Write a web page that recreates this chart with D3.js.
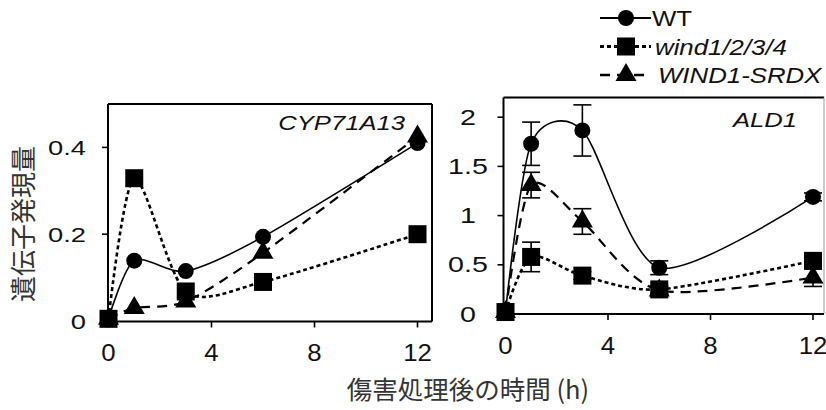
<!DOCTYPE html>
<html>
<head>
<meta charset="utf-8">
<script src="https://cdn.jsdelivr.net/npm/d3@7"></script>
<style>
	body { margin: 0; background: #fff; }
	svg { display: block; font-family: "Liberation Sans", Arial, sans-serif; }
</style>
</head>
<body>
<svg id="chart" width="826" height="410"></svg>
<script>
// hours after wounding
const hours = [0, 1, 3, 6, 12];
const xTicks = [0, 4, 8, 12];

// CYP71A13
const cypWT = [0.005, 0.139, 0.115, 0.194, 0.41];
const cypWind = [0.005, 0.329, 0.068, 0.09, 0.2];
const cypSRDX = [0.005, 0.03, 0.045, 0.157, 0.425];
const cypTicks = [0, 0.2, 0.4];

// ALD1
const aldWT = [0.02, 1.73, 1.865, 0.47, 1.19];
const aldWTErr = [0, 0.22, 0.26, 0.07, 0.04];
const aldWind = [0.02, 0.58, 0.39, 0.25, 0.54];
const aldWindErr = [0, 0.15, 0.04, 0.04, 0.05];
const aldSRDX = [0.02, 1.31, 0.94, 0.24, 0.37];
const aldSRDXErr = [0, 0.13, 0.13, 0.04, 0.09];
const aldTicks = [0, 0.5, 1, 1.5, 2];

const legendNames = ['WT', 'wind1/2/3/4', 'WIND1-SRDX'];

const svg = d3.select('#chart');

const styles = {
	WT: { dash: null, width: 1.6, marker: 'circle' },
	wind: { dash: '4,3', width: 2.6, marker: 'square' },
	SRDX: { dash: '10,7', width: 2.2, marker: 'triangle' }
};

// the original lettering is wider than Liberation Sans, stretch it
function widen(sel, factor) {
	sel.each(function () {
		const len = this.getComputedTextLength();
		d3.select(this).attr('textLength', len * factor).attr('lengthAdjust', 'spacingAndGlyphs');
	});
	return sel;
}

function drawMarker(g, kind, cx, cy) {
	if (kind === 'circle') {
		g.append('circle').attr('cx', cx).attr('cy', cy).attr('r', 8).attr('fill', '#000');
	} else if (kind === 'square') {
		g.append('rect').attr('x', cx - 9).attr('y', cy - 9).attr('width', 18).attr('height', 18).attr('fill', '#000');
	} else {
		const w = 21, h = 18;
		g.append('path')
			.attr('d', `M${cx},${cy - h * 2 / 3}L${cx + w / 2},${cy + h / 3}L${cx - w / 2},${cy + h / 3}Z`)
			.attr('fill', '#000');
	}
}

function drawPanel(opt) {
	const { x, y, frame, series, yTicks, title, titleX, titleY, labelMode, labelX, ySize } = opt;
	const g = svg.append('g');

	// frame
	g.append('line').attr('x1', frame.x0).attr('x2', frame.x1).attr('y1', frame.y0).attr('y2', frame.y0)
		.attr('stroke', '#000').attr('stroke-width', 2);
	g.append('line').attr('x1', frame.x1).attr('x2', frame.x1).attr('y1', frame.y0).attr('y2', frame.y1)
		.attr('stroke', frame.rightColor).attr('stroke-width', frame.rightWidth);
	g.append('line').attr('x1', frame.x0).attr('x2', frame.x0).attr('y1', frame.y0).attr('y2', frame.y1 + 1)
		.attr('stroke', '#000').attr('stroke-width', 2);
	g.append('line').attr('x1', frame.x0 - 1).attr('x2', frame.x1).attr('y1', frame.y1).attr('y2', frame.y1)
		.attr('stroke', '#000').attr('stroke-width', 2);

	// y ticks
	yTicks.forEach(t => {
		g.append('line').attr('x1', frame.x0 - 6).attr('x2', frame.x0).attr('y1', y(t)).attr('y2', y(t))
			.attr('stroke', '#000').attr('stroke-width', 1.6);
		widen(g.append('text')
			.attr('x', labelX)
			.attr('y', y(t) + 7.5)
			.attr('text-anchor', labelMode)
			.attr('font-size', ySize)
			.attr('fill', '#111')
			.text(t), 1.3);
	});

	// x ticks
	xTicks.forEach(t => {
		g.append('line').attr('x1', x(t)).attr('x2', x(t)).attr('y1', frame.y1).attr('y2', frame.y1 + 6)
			.attr('stroke', '#000').attr('stroke-width', 1.6);
		widen(g.append('text')
			.attr('x', x(t))
			.attr('y', frame.y1 + 39.5)
			.attr('text-anchor', 'middle')
			.attr('font-size', 23)
			.attr('fill', '#111')
			.text(t), 1.12);
	});

	widen(g.append('text')
		.attr('x', titleX).attr('y', titleY)
		.attr('text-anchor', 'end')
		.attr('font-size', 21)
		.attr('font-style', 'italic')
		.attr('fill', '#111')
		.text(title), 1.22);

	const line = d3.line()
		.x((d, i) => x(hours[i]))
		.y(d => y(d))
		.curve(d3.curveCardinal.tension(0.2));

	// lines
	series.forEach(s => {
		const st = styles[s.key];
		g.append('path')
			.attr('d', line(s.values))
			.attr('fill', 'none')
			.attr('stroke', '#000')
			.attr('stroke-width', st.width)
			.attr('stroke-dasharray', st.dash);
	});

	// error bars
	series.forEach(s => {
		if (!s.err) return;
		s.values.forEach((v, i) => {
			const e = s.err[i];
			if (!e) return;
			const cx = x(hours[i]);
			g.append('line').attr('x1', cx).attr('x2', cx).attr('y1', y(v + e)).attr('y2', y(v - e))
				.attr('stroke', '#000').attr('stroke-width', 1.6);
			[v + e, v - e].forEach(w => {
				g.append('line').attr('x1', cx - 9).attr('x2', cx + 9).attr('y1', y(w)).attr('y2', y(w))
					.attr('stroke', '#000').attr('stroke-width', 1.6);
			});
		});
	});

	// markers
	series.forEach(s => {
		s.values.forEach((v, i) => drawMarker(g, styles[s.key].marker, x(hours[i]), y(v)));
	});
}

/* -------------------- CYP71A13 ---------------------- */
drawPanel({
	x: d3.scaleLinear().domain([0, 12]).range([108.5, 417.5]),
	y: d3.scaleLinear().domain([0, 0.5]).range([321, 104]),
	frame: { x0: 108, x1: 432, y0: 104, y1: 321.5, rightColor: '#000', rightWidth: 2 },
	series: [
		{ key: 'SRDX', values: cypSRDX },
		{ key: 'wind', values: cypWind },
		{ key: 'WT', values: cypWT }
	],
	yTicks: cypTicks,
	labelMode: 'end', labelX: 86, ySize: 21,
	title: 'CYP71A13', titleX: 405, titleY: 130
});

/* -------------------- ALD1 ---------------------- */
drawPanel({
	x: d3.scaleLinear().domain([0, 12]).range([505.5, 813]),
	y: d3.scaleLinear().domain([0, 2.2]).range([314, 97.5]),
	frame: { x0: 503.5, x1: 824, y0: 97.5, y1: 314, rightColor: '#999', rightWidth: 1 },
	series: [
		{ key: 'SRDX', values: aldSRDX, err: aldSRDXErr },
		{ key: 'wind', values: aldWind, err: aldWindErr },
		{ key: 'WT', values: aldWT, err: aldWTErr }
	],
	yTicks: aldTicks,
	labelMode: 'middle', labelX: 468, ySize: 22,
	title: 'ALD1', titleX: 797, titleY: 127
});

/* -------------------- Legend ---------------------- */
const legend = svg.append('g');
const legendKeys = ['WT', 'wind', 'SRDX'];
const legendY = d3.scalePoint().domain(legendKeys).range([18, 75]);
legendKeys.forEach((k, i) => {
	const ly = legendY(k);
	const st = styles[k];
	legend.append('line').attr('x1', 600).attr('x2', 651).attr('y1', ly).attr('y2', ly)
		.attr('stroke', '#000').attr('stroke-width', st.width + 0.4).attr('stroke-dasharray', st.dash);
	drawMarker(legend, st.marker, 626, ly);
	widen(legend.append('text')
		.attr('x', i === 0 ? 652 : (i === 1 ? 655 : 658))
		.attr('y', ly + 8)
		.attr('font-size', 21.5)
		.attr('font-style', i === 0 ? 'normal' : 'italic')
		.attr('fill', '#111')
		.text(legendNames[i]), 1.2);
});

/* -------------------- Axis titles ---------------------- */
svg.append('text')
	.attr('transform', 'translate(33,224) rotate(-90)')
	.attr('text-anchor', 'middle')
	.attr('font-family', '"Noto Sans CJK JP", sans-serif')
	.attr('font-size', 26)
	.attr('fill', '#333')
	.text('遺伝子発現量');

svg.append('text')
	.attr('x', 468).attr('y', 399)
	.attr('text-anchor', 'middle')
	.attr('font-family', '"Noto Sans CJK JP", sans-serif')
	.attr('font-size', 25.5)
	.attr('fill', '#333')
	.text('傷害処理後の時間 (h)');
</script>
</body>
</html>
